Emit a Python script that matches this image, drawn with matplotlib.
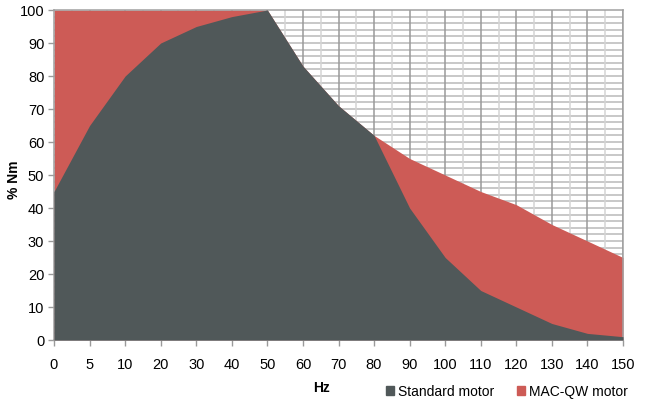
import numpy as np
import matplotlib.pyplot as plt
from matplotlib.patches import Patch

# Datos
hz = ["0", "5", "10", "20", "30", "40", "50", "60", "70", "80",
      "90", "100", "110", "120", "130", "140", "150"]
standard = [45, 65, 80, 90, 95, 98, 100, 83, 71, 62, 40, 25, 15, 10, 5, 2, 1]
mac_qw = [100, 100, 100, 100, 100, 100, 100, 83, 71, 62, 55, 50, 45, 41, 35, 30, 25]

c_std = "#505859"
c_mac = "#CD5B56"

plt.rcParams['font.family'] = ['Liberation Sans', 'DejaVu Sans']

fig = plt.figure(figsize=(6.46, 4.10), dpi=100)
ax = fig.add_axes([54 / 646, 1 - 341 / 410, (623 - 54) / 646, (341 - 11) / 410])

x = np.arange(len(hz))
ax.fill_between(x, 0, mac_qw, color=c_mac, lw=0, zorder=2)
ax.fill_between(x, 0, standard, color=c_std, lw=0, zorder=3)

# rejilla
for v in np.arange(2, 100, 2):
    ax.axhline(v, color="#c4c4c4", lw=1.3, zorder=1)
for i in x[1:]:
    ax.axvline(i, color="#9a9a9a", lw=1.1, zorder=1)
for i in x[:-1] + 0.5:
    ax.axvline(i, color="#d4d4d4", lw=1.1, zorder=1)

ax.set_xlim(0, len(hz) - 1)
ax.set_ylim(0, 100)
ax.set_xticks(x)
ax.set_xticklabels(hz)
ax.set_yticks(np.arange(0, 101, 10))
ax.tick_params(axis='both', labelsize=10.5, color="#9a9a9a", length=4, width=1)
ax.tick_params(axis='x', pad=8)
ax.tick_params(axis='y', pad=3)

for s in ax.spines.values():
    s.set_color("#a0a0a0")
    s.set_linewidth(1.1)

fig.text(14 / 646, 1 - 180 / 410, "% Nm", rotation=90, ha="center", va="center",
         fontsize=10, fontweight="bold")
fig.text(321 / 646, 1 - 388 / 410, "Hz", ha="center", va="center",
         fontsize=10, fontweight="bold")

handles = [Patch(color=c_std, label="Standard motor"),
           Patch(color=c_mac, label="MAC-QW motor")]
fig.legend(handles=handles, loc="center right", bbox_to_anchor=(628 / 646, 1 - 392 / 410),
           ncol=2, frameon=False, fontsize=10, handlelength=0.6, handleheight=0.6,
           handletextpad=0.3, columnspacing=1.6, borderaxespad=0, borderpad=0)

fig.savefig("out.png", dpi=100)
